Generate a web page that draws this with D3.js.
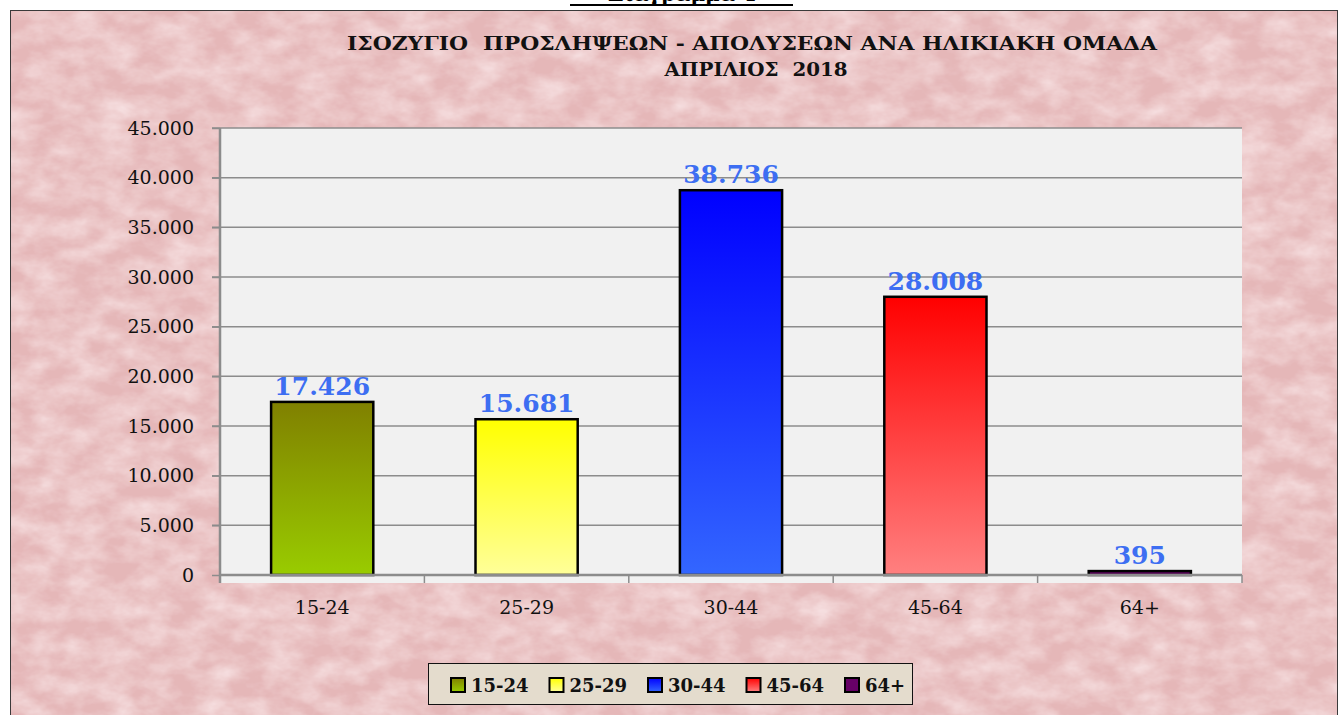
<!DOCTYPE html>
<html>
<head>
<meta charset="utf-8">
<script src="https://cdn.jsdelivr.net/npm/d3@7"></script>
<style>
  body { margin: 0; background: #fff; }
  svg { display: block; }
</style>
</head>
<body>
<div id="chart"></div>
<script>
// data
var groups = ["15-24", "25-29", "30-44", "45-64", "64+"];
var values = [17426, 15681, 38736, 28008, 395];
var yTicks = [0, 5000, 10000, 15000, 20000, 25000, 30000, 35000, 40000, 45000];
var topColors = ["#808000", "#ffff00", "#0000ff", "#ff0000", "#660066"];
var bottomColors = ["#99cc00", "#ffff99", "#3366ff", "#ff8080", "#660066"];
var titleLines = ["ΙΣΟΖΥΓΙΟ  ΠΡΟΣΛΗΨΕΩΝ - ΑΠΟΛΥΣΕΩΝ ΑΝΑ ΗΛΙΚΙΑΚΗ ΟΜΑΔΑ", "ΑΠΡΙΛΙΟΣ  2018"];
var heading = "Διάγραμμα 4";

var W = 1340, H = 715;
var plot = {left: 220, right: 1242, top: 128, bottom: 575};
var serif = "'DejaVu Serif', serif";

var fmt = function(v) { return d3.format(",")(v).replace(/,/g, "."); };

var svg = d3.select("#chart").append("svg")
    .attr("width", W)
    .attr("height", H);

var defs = svg.append("defs");

// mottled paper texture for the chart area
var tex = defs.append("filter").attr("id", "paper")
    .attr("x", 0).attr("y", 0).attr("width", 1).attr("height", 1);
tex.append("feTurbulence").attr("type", "fractalNoise")
    .attr("baseFrequency", "0.03 0.05").attr("numOctaves", 4).attr("seed", 3)
    .attr("result", "noise");
tex.append("feColorMatrix").attr("in", "noise").attr("type", "matrix")
    .attr("values", "0 0 0 0 0.96  0 0 0 0 0.82  0 0 0 0 0.83  0 0 0 -1.2 0.85")
    .attr("result", "spots");
tex.append("feComposite").attr("in", "spots").attr("in2", "SourceGraphic").attr("operator", "in");

groups.forEach(function(g, i) {
  var lg = defs.append("linearGradient").attr("id", "grad" + i)
      .attr("x1", 0).attr("y1", 0).attr("x2", 0).attr("y2", 1);
  lg.append("stop").attr("offset", "0%").attr("stop-color", topColors[i]);
  lg.append("stop").attr("offset", "100%").attr("stop-color", bottomColors[i]);
});

// cut off heading above the chart frame
svg.append("text")
    .attr("x", 682).attr("y", 1)
    .attr("text-anchor", "middle")
    .style("font-family", serif).style("font-weight", "bold").style("font-size", "20px")
    .text(heading);
svg.append("line")
    .attr("x1", 570).attr("x2", 793).attr("y1", 5).attr("y2", 5)
    .attr("stroke", "#000").attr("stroke-width", 2);

// chart frame
svg.append("rect")
    .attr("x", 10.5).attr("y", 10.5).attr("width", 1327).attr("height", 720)
    .attr("fill", "#e5b7b8");
svg.append("rect")
    .attr("x", 10.5).attr("y", 10.5).attr("width", 1327).attr("height", 720)
    .attr("fill", "#e5b7b8").attr("filter", "url(#paper)");
svg.append("rect")
    .attr("x", 10.5).attr("y", 10.5).attr("width", 1327).attr("height", 720)
    .attr("fill", "none").attr("stroke", "#3a3a3a").attr("stroke-width", 1);

// title
titleLines.forEach(function(t, i) {
  svg.append("text")
      .attr("x", i === 0 ? 752 : 756).attr("y", i === 0 ? 50 : 76)
      .attr("text-anchor", "middle")
      .attr("textLength", i === 0 ? 810 : 183)
      .attr("lengthAdjust", "spacingAndGlyphs")
      .style("white-space", "pre")
      .style("font-family", serif).style("font-weight", "bold").style("font-size", "18px")
      .style("fill", "#111")
      .text(t);
});

// scales
var x = d3.scaleBand().domain(groups).range([plot.left, plot.right])
    .paddingInner(0.5).paddingOuter(0.25);
var y = d3.scaleLinear().domain([0, 45000]).range([plot.bottom, plot.top]);

// plot area
svg.append("rect")
    .attr("x", plot.left).attr("y", plot.top)
    .attr("width", plot.right - plot.left).attr("height", plot.bottom - plot.top + 8)
    .attr("fill", "#f1f1f1");

// gridlines
svg.append("g").selectAll("line")
    .data(yTicks.filter(function(d) { return d > 0; }))
  .enter().append("line")
    .attr("x1", plot.left - 8).attr("x2", plot.right)
    .attr("y1", function(d) { return y(d); }).attr("y2", function(d) { return y(d); })
    .attr("stroke", "#8c8c8c").attr("stroke-width", 1.5);

// y axis
var yAxis = svg.append("g")
    .attr("transform", "translate(" + plot.left + ",0)")
    .call(d3.axisLeft(y).tickValues(yTicks).tickFormat(fmt).tickSize(8).tickPadding(18));
yAxis.select(".domain").attr("stroke", "#8c8c8c").attr("stroke-width", 2.5)
    .attr("d", "M0," + plot.top + "V" + (plot.bottom + 8));
yAxis.selectAll(".tick line").attr("stroke", "#8c8c8c").attr("stroke-width", 1.5);
yAxis.selectAll(".tick text")
    .style("font-family", serif).style("font-size", "19px").style("fill", "#111");

// bars
svg.append("g").selectAll("rect")
    .data(values)
  .enter().append("rect")
    .attr("x", function(d, i) { return x(groups[i]); })
    .attr("y", function(d) { return y(d); })
    .attr("width", x.bandwidth())
    .attr("height", function(d) { return Math.max(y(0) - y(d), 1); })
    .attr("fill", function(d, i) { return "url(#grad" + i + ")"; })
    .attr("stroke", "#000").attr("stroke-width", 2.5);

// x axis
var bandEdges = groups.map(function(g) { return x(g) - x.step() * x.paddingInner() / 2; })
    .concat([plot.right]);
svg.append("line")
    .attr("x1", plot.left).attr("x2", plot.right)
    .attr("y1", y(0)).attr("y2", y(0))
    .attr("stroke", "#8c8c8c").attr("stroke-width", 2.5);
svg.append("g").selectAll("line")
    .data(bandEdges)
  .enter().append("line")
    .attr("x1", function(d) { return d; }).attr("x2", function(d) { return d; })
    .attr("y1", y(0)).attr("y2", y(0) + 8)
    .attr("stroke", "#8c8c8c").attr("stroke-width", 1.5);
svg.append("g").selectAll("text")
    .data(groups)
  .enter().append("text")
    .attr("x", function(d) { return x(d) + x.bandwidth() / 2; })
    .attr("y", 614)
    .attr("text-anchor", "middle")
    .style("font-family", serif).style("font-size", "19px").style("fill", "#111")
    .text(function(d) { return d; });

// value labels
svg.append("g").selectAll("text")
    .data(values)
  .enter().append("text")
    .attr("x", function(d, i) { return x(groups[i]) + x.bandwidth() / 2; })
    .attr("y", function(d) { return y(d) - 7; })
    .attr("text-anchor", "middle")
    .style("font-family", serif).style("font-weight", "bold").style("font-size", "25px")
    .style("fill", "#3d6ef2")
    .text(fmt);

// legend
var legend = svg.append("g");
legend.append("rect")
    .attr("x", 428.5).attr("y", 663.5).attr("width", 484).attr("height", 41)
    .attr("fill", "#e4dccd").attr("stroke", "#111").attr("stroke-width", 1);
var item = legend.selectAll("g.item")
    .data(groups)
  .enter().append("g")
    .attr("class", "item")
    .attr("transform", function(d, i) { return "translate(" + (451 + i * 98.5) + ",678)"; });
item.append("rect")
    .attr("width", 14).attr("height", 14)
    .attr("fill", function(d, i) { return "url(#grad" + i + ")"; })
    .attr("stroke", "#000").attr("stroke-width", 2);
item.append("text")
    .attr("x", 20).attr("y", 13.5)
    .style("font-family", serif).style("font-weight", "bold").style("font-size", "18px")
    .style("fill", "#111")
    .text(function(d) { return d; });
</script>
</body>
</html>
